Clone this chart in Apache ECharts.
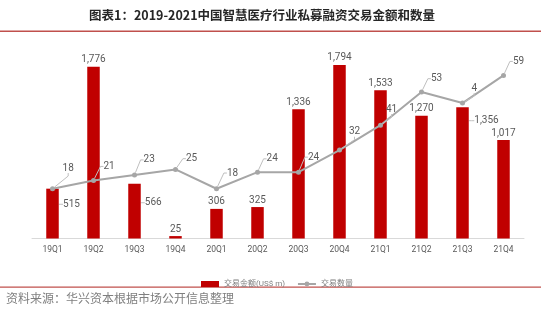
<!DOCTYPE html>
<html>
<head>
<meta charset="utf-8">
<script src="https://cdn.jsdelivr.net/npm/echarts@6/dist/echarts.min.js"></script>
<style>
html,body{margin:0;padding:0;background:#fff;}
#c{width:545px;height:323px;}
</style>
</head>
<body>
<div id="c"></div>
<script>
// ---- data ----
var categories = ['19Q1','19Q2','19Q3','19Q4','20Q1','20Q2','20Q3','20Q4','21Q1','21Q2','21Q3','21Q4'];
var dealAmount = [515, 1776, 566, 25, 306, 325, 1336, 1794, 1533, 1270, 1356, 1017];
var dealCount = [18, 21, 23, 25, 18, 24, 24, 32, 41, 53, 49, 59];
var dealCountLabels = ['18','21','23','25','18','24','24','32','41','53','4','59'];
var seriesNames = ['交易金额(US$ m)', '交易数量'];
var titleText = '图表1：2019-2021中国智慧医疗行业私募融资交易金额和数量';
var sourceText = '资料来源：华兴资本根据市场公开信息整理';

// ---- label layout offsets (positions, not data) ----
var countLabelShift = [[15.7,-20.7],[15.6,-14],[14.7,-15],[16,-10.7],[16,-15.7],[14.7,-13.3],[15,-15],[15,-18.3],[11,-16],[15,-13.3],[11.7,-15],[15,-14]];
var amountLabelShift = [[19,15.6],null,[18.7,19],null,null,null,null,null,null,null,[24,13.4],null];

function fmt(v){ return String(v).replace(/\B(?=(\d{3})+(?!\d))/g, ','); }

var chart = echarts.init(document.getElementById('c'), null, {renderer:'canvas'});
var labelColor = '#595959';
var fontFam = 'Roboto, "Noto Sans", "Noto Sans CJK SC", sans-serif';

chart.setOption({
  animation: false,
  backgroundColor: '#ffffff',
  grid: {left: 32, right: 21, top: 45, bottom: 84.5},
  legend: {
    left: 196, top: 275,
    itemGap: 12,
    textStyle: {fontSize: 8, color: '#7f7f7f', fontFamily: fontFam},
    data: [
      {name: seriesNames[0], icon: 'rect', itemStyle: {color: '#c00000'}},
      {name: seriesNames[1]}
    ],
    itemWidth: 18, itemHeight: 6
  },
  xAxis: {
    type: 'category',
    data: categories,
    axisLine: {show: true, lineStyle: {color: '#d9d9d9', width: 1}},
    axisTick: {show: false},
    axisLabel: {color: '#595959', fontSize: 8.5, fontFamily: fontFam, margin: 7}
  },
  yAxis: [
    {type: 'value', min: 0, max: 2000, show: false, splitLine: {show: false}},
    {type: 'value', min: 0, max: 70, show: false, splitLine: {show: false}}
  ],
  series: [
    {
      name: seriesNames[0],
      type: 'bar',
      barWidth: 12.5,
      itemStyle: {color: '#c00000'},
      data: dealAmount.map(function(v, i){
        return {value: v, labelLine: {show: amountLabelShift[i] != null}};
      }),
      label: {
        show: true, position: 'top', distance: 2,
        color: labelColor, fontSize: 10, fontFamily: fontFam,
        formatter: function(p){ return fmt(p.value); }
      },
      labelLine: {lineStyle: {color: '#bfbfbf', width: 1}, length2: 3},
      labelLayout: function(p){
        var s = amountLabelShift[p.dataIndex];
        if (!s) return {};
        return {
          x: p.rect.x + p.rect.width/2 + s[0],
          y: p.rect.y + s[1],
          align: 'center', verticalAlign: 'middle'
        };
      },
      z: 2
    },
    {
      name: seriesNames[1],
      type: 'line',
      yAxisIndex: 1,
      data: dealCount,
      symbol: 'circle',
      symbolSize: 5,
      lineStyle: {color: '#a6a6a6', width: 2},
      itemStyle: {color: '#a6a6a6'},
      label: {
        show: true, position: 'top',
        color: labelColor, fontSize: 10, fontFamily: fontFam,
        formatter: function(p){ return dealCountLabels[p.dataIndex]; }
      },
      labelLine: {show: true, lineStyle: {color: '#bfbfbf', width: 1}, length2: 3},
      labelLayout: function(p){
        var s = countLabelShift[p.dataIndex];
        return {
          x: p.rect.x + p.rect.width/2 + s[0],
          y: p.rect.y + p.rect.height/2 + s[1],
          align: 'center', verticalAlign: 'middle'
        };
      },
      z: 3
    }
  ],
  graphic: [
    {type: 'text', left: 89, top: 9, style: {
      text: titleText, font: 'bold 12.5px "Noto Sans CJK SC", sans-serif', fill: '#262626'}},
    {type: 'rect', shape: {x: 0, y: 30.5, width: 541, height: 1.5}, style: {fill: '#c0504d'}},
    {type: 'rect', shape: {x: 0, y: 286.5, width: 541, height: 1.2}, style: {fill: '#c0504d'}},
    {type: 'text', left: 6, top: 292, style: {
      text: sourceText, font: '12px "Noto Sans CJK SC", sans-serif', fill: '#7f7f7f'}}
  ]
});
</script>
</body>
</html>
